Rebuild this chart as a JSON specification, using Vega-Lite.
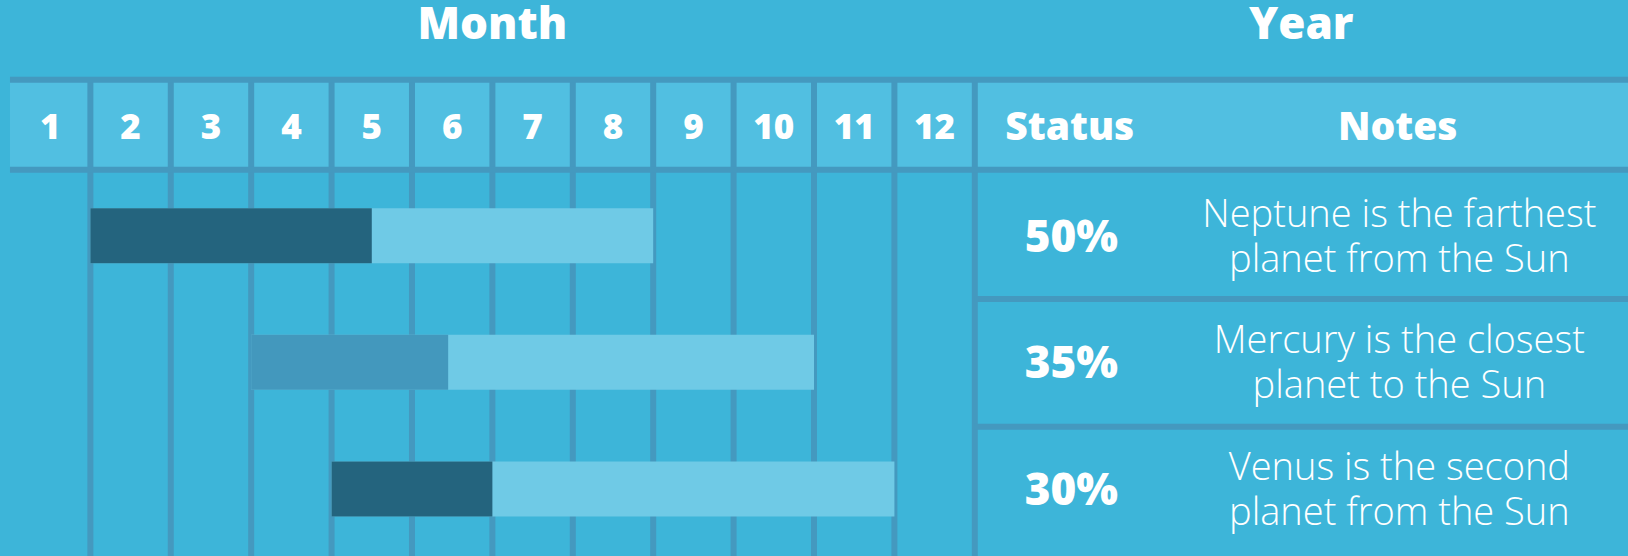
{
  "$schema": "https://vega.github.io/schema/vega-lite/v6.json",
  "width": 1628,
  "height": 556,
  "autosize": {"type": "none"},
  "padding": 0,
  "background": "#3db5d9",
  "config": {"view": {"stroke": null, "fill": "#3db5d9"}},
  "datasets": {
    "months": [
      {"month": 1, "start": 0}, {"month": 2, "start": 1}, {"month": 3, "start": 2},
      {"month": 4, "start": 3}, {"month": 5, "start": 4}, {"month": 6, "start": 5},
      {"month": 7, "start": 6}, {"month": 8, "start": 7}, {"month": 9, "start": 8},
      {"month": 10, "start": 9}, {"month": 11, "start": 10}, {"month": 12, "start": 11}
    ],
    "tasks": [
      {"task": "Neptune", "row": 1, "start": 1, "end": 8, "done": 4.5, "status": "50%", "note": ["Neptune is the farthest", "planet from the Sun"]},
      {"task": "Mercury", "row": 2, "start": 3, "end": 10, "done": 5.45, "status": "35%", "note": ["Mercury is the closest", "planet to the Sun"]},
      {"task": "Venus", "row": 3, "start": 4, "end": 11, "done": 6.0, "status": "30%", "note": ["Venus is the second", "planet from the Sun"]}
    ],
    "titles": [
      {"label": "Month", "pos": 6},
      {"label": "Year", "pos": 16.06}
    ],
    "heads": [
      {"label": "Status", "pos": 13.18},
      {"label": "Notes", "pos": 17.26}
    ]
  },
  "encoding": {
    "x": {"type": "quantitative", "scale": {"domain": [-0.124, 20.124], "nice": false, "zero": false, "padding": 0}, "axis": null},
    "y": {"type": "quantitative", "scale": {"domain": [-0.862, 3.53], "nice": false, "zero": false, "padding": 0, "reverse": true}, "axis": null}
  },
  "layer": [
    {
      "data": {"name": "months"},
      "mark": {"type": "rect", "color": "#51bfe1"},
      "encoding": {
        "x": {"field": "start", "type": "quantitative"},
        "x2": {"field": "month"},
        "y": {"datum": -0.232, "type": "quantitative"},
        "y2": {"datum": 0.478}
      }
    },
    {
      "data": {"values": [{}]},
      "mark": {"type": "rect", "color": "#51bfe1"},
      "encoding": {
        "x": {"datum": 12, "type": "quantitative"},
        "x2": {"datum": 20.124},
        "y": {"datum": -0.232, "type": "quantitative"},
        "y2": {"datum": 0.478}
      }
    },
    {
      "data": {"name": "months"},
      "mark": {"type": "rule", "color": "#4499bf", "strokeWidth": 6},
      "encoding": {
        "x": {"field": "month", "type": "quantitative"},
        "y": {"datum": -0.232, "type": "quantitative"},
        "y2": {"datum": 3.53}
      }
    },
    {
      "data": {"values": [{"level": -0.232}, {"level": 0.478}]},
      "mark": {"type": "rule", "color": "#4499bf", "strokeWidth": 6},
      "encoding": {
        "y": {"field": "level", "type": "quantitative"},
        "x": {"datum": 0, "type": "quantitative"},
        "x2": {"datum": 20.124}
      }
    },
    {
      "data": {"values": [{"level": 1.5}, {"level": 2.51}]},
      "mark": {"type": "rule", "color": "#4499bf", "strokeWidth": 6},
      "encoding": {
        "y": {"field": "level", "type": "quantitative"},
        "x": {"datum": 12, "type": "quantitative"},
        "x2": {"datum": 20.124}
      }
    },
    {
      "data": {"name": "tasks"},
      "mark": {"type": "bar", "size": 55, "color": "#6fcae6"},
      "encoding": {
        "x": {"field": "start", "type": "quantitative"},
        "x2": {"field": "end"},
        "y": {"field": "row", "type": "quantitative"}
      }
    },
    {
      "data": {"name": "tasks"},
      "mark": {"type": "bar", "size": 55},
      "encoding": {
        "x": {"field": "start", "type": "quantitative"},
        "x2": {"field": "done"},
        "y": {"field": "row", "type": "quantitative"},
        "color": {"field": "task", "type": "nominal", "legend": null,
          "scale": {"domain": ["Neptune", "Mercury", "Venus"], "range": ["#24647e", "#4398bd", "#24647e"]}}
      }
    },
    {
      "data": {"name": "titles"},
      "mark": {"type": "text", "font": "Open Sans", "fontWeight": 800, "fontSize": 44, "color": "white", "baseline": "middle", "align": "center", "dy": 3},
      "encoding": {
        "x": {"field": "pos", "type": "quantitative"},
        "y": {"datum": -0.68, "type": "quantitative"},
        "text": {"field": "label"}
      }
    },
    {
      "data": {"name": "months"},
      "mark": {"type": "text", "font": "Open Sans", "fontWeight": 800, "fontSize": 35, "color": "white", "baseline": "middle", "align": "center", "xOffset": -40.2, "dy": 3},
      "encoding": {
        "x": {"field": "month", "type": "quantitative"},
        "y": {"datum": 0.125, "type": "quantitative"},
        "text": {"field": "month"}
      }
    },
    {
      "data": {"name": "heads"},
      "mark": {"type": "text", "font": "Open Sans", "fontWeight": 800, "fontSize": 39, "color": "white", "baseline": "middle", "align": "center", "dy": 3},
      "encoding": {
        "x": {"field": "pos", "type": "quantitative"},
        "y": {"datum": 0.125, "type": "quantitative"},
        "text": {"field": "label"}
      }
    },
    {
      "data": {"name": "tasks"},
      "mark": {"type": "text", "font": "Open Sans", "fontWeight": 800, "fontSize": 44, "color": "white", "baseline": "middle", "align": "center", "dy": 3},
      "encoding": {
        "x": {"datum": 13.2, "type": "quantitative"},
        "y": {"field": "row", "type": "quantitative"},
        "text": {"field": "status"}
      }
    },
    {
      "data": {"name": "tasks"},
      "mark": {"type": "text", "font": "Open Sans", "fontWeight": 300, "fontSize": 38, "lineHeight": 45, "dy": -20, "color": "white", "baseline": "middle", "align": "center"},
      "encoding": {
        "x": {"datum": 17.28, "type": "quantitative"},
        "y": {"field": "row", "type": "quantitative"},
        "text": {"field": "note"}
      }
    }
  ]
}
